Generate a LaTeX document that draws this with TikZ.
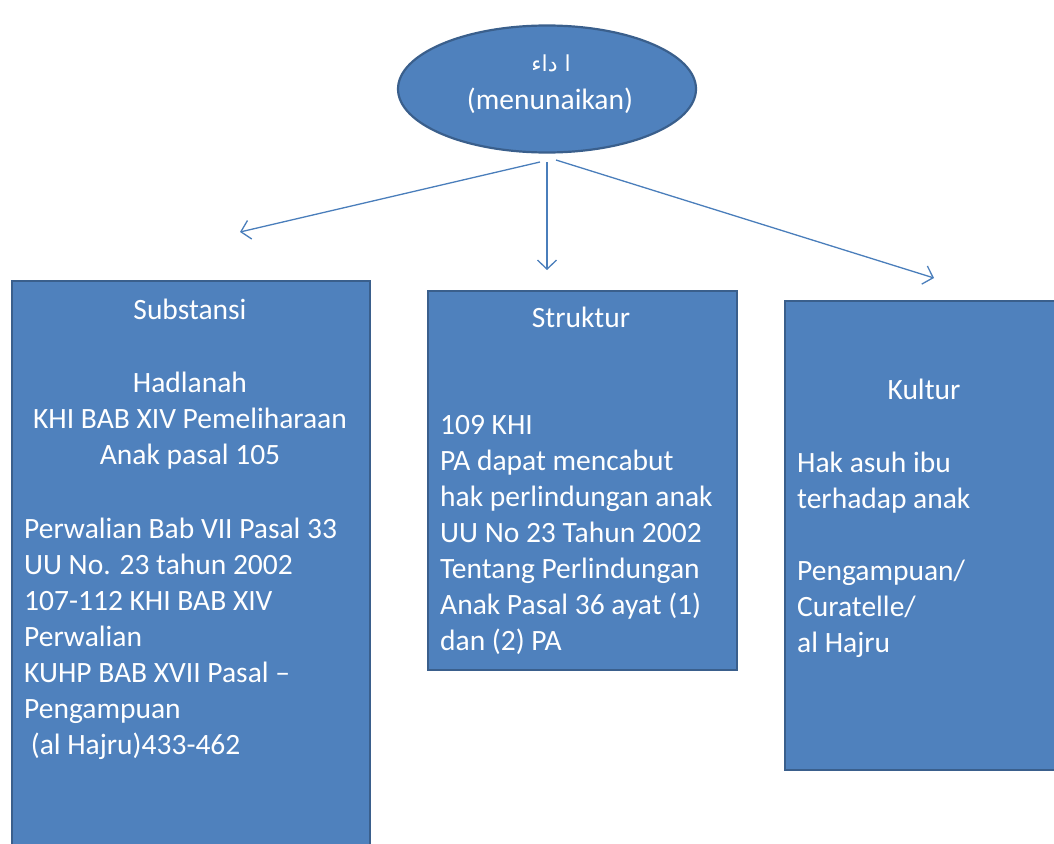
\documentclass[tikz,border=0pt]{standalone}
\usepackage{fontspec}
\setmainfont{Carlito}
\newfontfamily\arabicfont[Script=Arabic]{DejaVu Sans}
\TeXXeTstate=1
\usetikzlibrary{shapes.geometric,arrows.meta}
\definecolor{boxfill}{HTML}{4F81BD}
\definecolor{boxline}{HTML}{3A5F8C}
\definecolor{arrowcol}{HTML}{4A7EBB}
\tikzset{
  panel/.style={draw=boxline, fill=boxfill, line width=2.2pt, anchor=north west, inner sep=0pt},
  txt/.style={text=white, font=\fontsize{29.5}{36}\selectfont, inner sep=0pt},
  body/.style={txt, anchor=north west, align=left},
  head/.style={txt, anchor=center},
  link/.style={draw=arrowcol, line width=1.3pt, -{Straight Barb[length=9pt,width=19pt,line width=1.3pt]}}
}
\begin{document}
\begin{tikzpicture}[x=1pt,y=-1pt]
\useasboundingbox (0,0) rectangle (1054,843);
% top ellipse
\node[ellipse, draw=boxline, fill=boxfill, line width=2.2pt, minimum width=298pt, minimum height=127pt] (top) at (547,89) {};
\node[text=white, font=\arabicfont\fontsize{22}{26}\selectfont, inner sep=0pt] (ar) at (551,63) {\beginR ا داء\endR};
\node[head] (men) at (550,101) {(menunaikan)};
% arrows
\coordinate (s1) at (540,162);
\coordinate (s2) at (547,162);
\coordinate (s3) at (556,160);
\coordinate (e1) at (240,232);
\coordinate (e2) at (547,270);
\coordinate (e3) at (934,278);
\draw[link] (s1) -- (e1);
\draw[link] (s2) -- (e2);
\draw[link] (s3) -- (e3);
% left box
\node[panel, minimum width=358pt, minimum height=600pt] (sub) at (11,280) {};
\node[head] (subh) at (190,309) {Substansi};
\node[txt, align=center, anchor=center] (subc) at (190,421) {Hadlanah\\KHI BAB XIV Pemeliharaan\\Anak pasal 105};
\node[body] (subb) at (24,518) {Perwalian Bab VII Pasal 33\\UU No. 23 tahun 2002\\107-112 KHI BAB XIV\\Perwalian\\KUHP BAB XVII Pasal --\\Pengampuan\\\ (al Hajru)433-462};
% middle box
\node[panel, minimum width=309pt, minimum height=379pt] (str) at (427,290) {};
\node[head] (strh) at (581,317) {Struktur};
\node[body] (strb) at (440,415) {109 KHI\\PA dapat mencabut\\hak perlindungan anak\\UU No 23 Tahun 2002\\Tentang Perlindungan\\Anak Pasal 36 ayat (1)\\dan (2) PA};
% right box
\node[panel, minimum width=300pt, minimum height=469pt] (kul) at (784,300) {};
\node[head] (kulh) at (924,389) {Kultur};
\node[body] (kulb) at (797,452) {Hak asuh ibu\\terhadap anak\\[36pt]Pengampuan/\\Curatelle/\\al Hajru};
\end{tikzpicture}
\end{document}
